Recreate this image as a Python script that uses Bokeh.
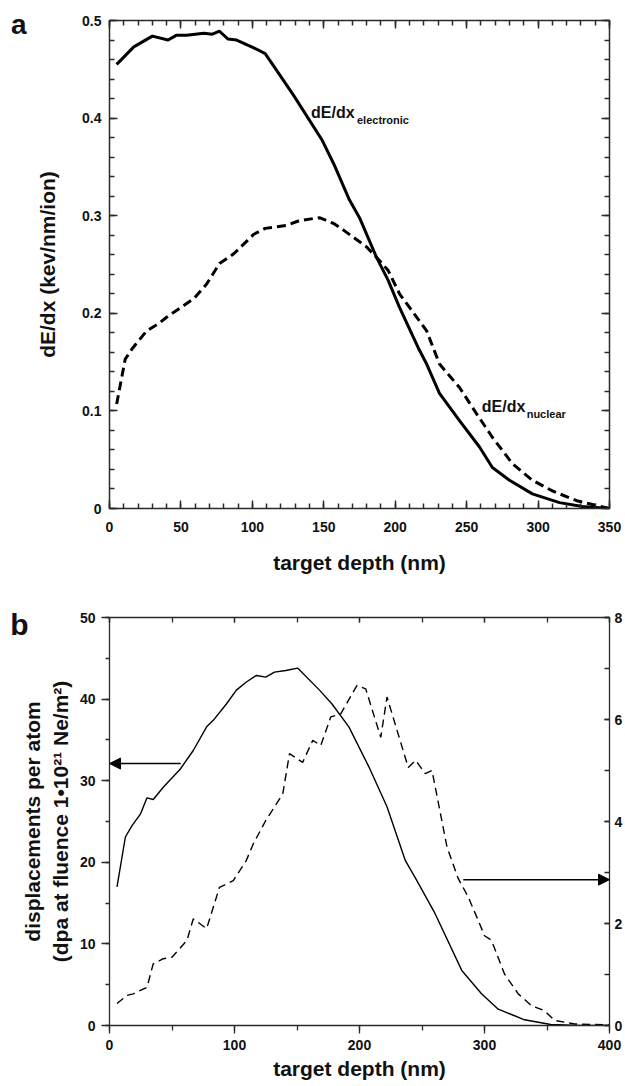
import math
from bokeh.plotting import figure
from bokeh.models import (Range1d, LinearAxis, SingleIntervalTicker, FixedTicker, Label, Arrow,
                          NormalHead, CustomJSTickFormatter)
from bokeh.layouts import column
from bokeh.embed import file_html
from bokeh.resources import INLINE

# ---------------- data (panel a) ----------------
depth_elec = [5, 17, 30, 41, 47, 54, 66, 72, 77, 83, 89, 101, 109, 117, 129, 149, 157, 168,
              175, 187, 195, 203, 216, 222, 231, 245, 259, 268, 280, 296, 315, 331, 350]
dedx_elec = [0.455, 0.473, 0.484, 0.480, 0.485, 0.485, 0.487, 0.486, 0.489, 0.481, 0.480,
             0.472, 0.466, 0.449, 0.423, 0.377, 0.353, 0.316, 0.298, 0.257, 0.234, 0.206,
             0.165, 0.148, 0.118, 0.090, 0.063, 0.042, 0.029, 0.015, 0.006, 0.002, 0.0]
depth_nucl = [5, 11, 16, 26, 34, 40, 52, 59, 68, 77, 87, 101, 109, 124, 133, 147, 157, 164,
              180, 189, 195, 203, 210, 222, 231, 245, 257, 268, 282, 296, 310, 327, 350]
dedx_nucl = [0.107, 0.153, 0.164, 0.182, 0.189, 0.196, 0.208, 0.215, 0.230, 0.251, 0.261,
             0.281, 0.287, 0.290, 0.295, 0.298, 0.292, 0.285, 0.268, 0.254, 0.244, 0.220,
             0.206, 0.182, 0.148, 0.124, 0.097, 0.073, 0.046, 0.029, 0.018, 0.008, 0.0]

# ---------------- data (panel b) ----------------
depth_dpa = [6, 12.7, 18, 24.7, 30, 35, 43, 56.5, 67, 77.7, 83, 93.5, 101.5, 109.5, 117.5,
             125, 132, 141, 150.5, 168, 178, 191.5, 207.5, 222, 236.7, 245, 260.5, 282,
             297.6, 311, 332, 353, 375, 400]
dpa = [17.0, 23.1, 24.5, 25.9, 27.9, 27.7, 29.2, 31.4, 33.7, 36.6, 37.4, 39.4, 41.1, 42.1,
       42.9, 42.7, 43.3, 43.5, 43.8, 41.1, 39.4, 36.6, 31.7, 26.8, 20.2, 18.0, 13.7, 6.7,
       3.9, 2.0, 0.7, 0.12, 0.02, 0.0]
depth_conc = [6, 14, 19, 30, 35, 43, 50, 62, 67, 77.7, 88, 99, 109.5, 115, 125, 138.6, 144,
              154.5, 162.6, 169, 177, 185, 198, 205, 217, 222, 239, 245, 252.5, 258, 270,
              279, 287, 295, 300, 305.6, 316, 327, 337.5, 348, 356, 372, 400]
conc = [0.43, 0.59, 0.62, 0.75, 1.21, 1.31, 1.34, 1.67, 2.09, 1.90, 2.71, 2.84, 3.24, 3.56,
        4.02, 4.54, 5.33, 5.16, 5.59, 5.49, 6.05, 6.11, 6.67, 6.60, 5.65, 6.44, 5.06, 5.20,
        4.94, 5.00, 3.50, 2.88, 2.52, 2.06, 1.76, 1.67, 1.01, 0.62, 0.39, 0.29, 0.10, 0.03,
        0.01]

# arrows (depth, value) pointing to their axes
arrow_left = (57, 32.1, 0)      # x_start, y, x_end  (left axis units)
arrow_right = (283, 2.86, 400)  # x_start, y, x_end  (right axis units)

FONT = "Liberation Sans"
INK = "#111111"
AX = "#2a2a2a"


def style_axis(ax, tick_in, tick_out, minor_in, minor_out, lw, labels=True, standoff=6, size="14px"):
    ax.axis_line_color = AX
    ax.axis_line_width = lw
    ax.major_tick_line_color = AX
    ax.minor_tick_line_color = AX
    ax.major_tick_line_width = lw
    ax.minor_tick_line_width = lw
    ax.major_tick_in = tick_in
    ax.major_tick_out = tick_out
    ax.minor_tick_in = minor_in
    ax.minor_tick_out = minor_out
    ax.axis_label_text_font = FONT
    ax.axis_label_text_font_style = "bold"
    ax.axis_label_text_font_size = "21px"
    ax.axis_label_text_color = INK
    if labels:
        ax.major_label_text_font = FONT
        ax.major_label_text_font_style = "bold"
        ax.major_label_text_font_size = size
        ax.major_label_text_color = INK
        ax.major_label_standoff = standoff
    else:
        ax.formatter = CustomJSTickFormatter(code="return '';")
        ax.major_label_text_font_size = "1px"
        ax.major_label_standoff = 0


def panel_letter_axis(p, letter, y_at, size, standoff):
    # an outer, line-less left axis whose single tick label is the panel letter
    ax = LinearAxis(ticker=FixedTicker(ticks=[y_at], minor_ticks=[]),
                    formatter=CustomJSTickFormatter(code="return '%s';" % letter))
    ax.axis_line_color = None
    ax.major_tick_line_color = None
    ax.minor_tick_line_color = None
    ax.major_tick_in = 0
    ax.major_tick_out = 0
    ax.minor_tick_in = 0
    ax.minor_tick_out = 0
    ax.major_label_text_font = FONT
    ax.major_label_text_font_style = "bold"
    ax.major_label_text_font_size = size
    ax.major_label_text_color = INK
    ax.major_label_standoff = standoff
    p.add_layout(ax, "left")


def add_label(p, text, xy, size):
    p.add_layout(Label(x=xy[0], y=xy[1], text=text, text_font=FONT, text_font_style="bold",
                       text_font_size=size, text_color=INK, text_align="left",
                       text_baseline="alphabetic"))


# ====================== panel a ======================
p1 = figure(width=625, height=580, x_range=Range1d(0, 350), y_range=Range1d(0, 0.5),
            output_backend="svg", toolbar_location=None,
            x_axis_location=None, y_axis_location=None,
            min_border_left=109, min_border_right=15, min_border_top=20, min_border_bottom=72)
p1.outline_line_color = None
p1.grid.visible = False

xb = LinearAxis(ticker=SingleIntervalTicker(interval=50, num_minor_ticks=5),
                axis_label="target depth (nm)")
style_axis(xb, 8, 0, 5, 0, 1.5, standoff=13)
xb.axis_label_standoff = 16
p1.add_layout(xb, "below")
xt = LinearAxis(ticker=SingleIntervalTicker(interval=50, num_minor_ticks=5))
style_axis(xt, 8, 0, 5, 0, 1.5, labels=False)
p1.add_layout(xt, "above")
yl = LinearAxis(ticker=SingleIntervalTicker(interval=0.1, num_minor_ticks=5),
                axis_label="dE/dx (kev/nm/ion)")
style_axis(yl, 8, 0, 5, 0, 1.5, standoff=8)
yl.formatter = CustomJSTickFormatter(code="return Math.abs(tick) < 1e-9 ? '0' : tick.toFixed(1);")
yl.axis_label_standoff = 20
p1.add_layout(yl, "left")
yr = LinearAxis(ticker=SingleIntervalTicker(interval=0.1, num_minor_ticks=5))
style_axis(yr, 8, 0, 5, 0, 1.5, labels=False)
p1.add_layout(yr, "right")

p1.line(depth_elec, dedx_elec, line_color="black", line_width=3, line_join="round")
p1.line(depth_nucl, dedx_nucl, line_color="black", line_width=3, line_dash="9 5")


def a_xy(px, py):
    # page pixel -> panel a data coordinates (frame page box 109..610 x 20..508)
    return ((px - 109) / (610 - 109) * 350, (508 - py) / (508 - 20) * 0.5)


panel_letter_axis(p1, "a", a_xy(0, 24)[1], "28px", 7)
add_label(p1, "dE/dx", a_xy(311, 112), "16px")
add_label(p1, "electronic", a_xy(357, 119), "11px")
add_label(p1, "dE/dx", a_xy(482, 406), "16px")
add_label(p1, "nuclear", a_xy(527, 413), "11px")

# ====================== panel b ======================
p2 = figure(width=625, height=506, x_range=Range1d(0, 400), y_range=Range1d(0, 50),
            output_backend="svg", toolbar_location=None,
            x_axis_location=None, y_axis_location=None,
            min_border_left=109, min_border_right=14, min_border_top=37, min_border_bottom=61)
p2.extra_y_ranges = {"right": Range1d(0, 8)}
p2.outline_line_color = None
p2.grid.visible = False

bx = LinearAxis(ticker=SingleIntervalTicker(interval=100, num_minor_ticks=2),
                axis_label="target depth (nm)")
style_axis(bx, 0, 8, 0, 5, 1.3, standoff=6)
bx.axis_label_standoff = 4
p2.add_layout(bx, "below")
tx = LinearAxis(ticker=SingleIntervalTicker(interval=100, num_minor_ticks=2))
style_axis(tx, 5, 0, 5, 0, 1.3, labels=False)
p2.add_layout(tx, "above")
ly = LinearAxis(ticker=SingleIntervalTicker(interval=10, num_minor_ticks=2),
                axis_label="displacements per atom\n(dpa at fluence 1\u202210\u00b2\u00b9 Ne/m\u00b2)")
style_axis(ly, 0, 8, 0, 4, 1.3, standoff=6)
ly.axis_label_standoff = 5
p2.add_layout(ly, "left")
ry = LinearAxis(y_range_name="right", ticker=SingleIntervalTicker(interval=2, num_minor_ticks=2))
style_axis(ry, 5, 0, 5, 0, 1.3, standoff=5)
p2.add_layout(ry, "right")

p2.line(depth_dpa, dpa, line_color="black", line_width=1.4)
p2.line(depth_conc, conc, line_color="black", line_width=1.4, line_dash="8 5",
        y_range_name="right")

p2.add_layout(Arrow(end=NormalHead(size=11, fill_color="black", line_color="black"),
                    x_start=arrow_left[0], y_start=arrow_left[1],
                    x_end=arrow_left[2], y_end=arrow_left[1],
                    line_color="black", line_width=1.5))
p2.add_layout(Arrow(end=NormalHead(size=11, fill_color="black", line_color="black"),
                    x_start=arrow_right[0], y_start=arrow_right[1],
                    x_end=arrow_right[2], y_end=arrow_right[1],
                    line_color="black", line_width=1.5, y_range_name="right"))


def b_y(py):
    # page pixel row -> panel b left-axis value (frame page rows 617..1025)
    return (1025 - py) / (1025 - 617) * 50


panel_letter_axis(p2, "b", b_y(624), "30px", -10)

layout = column(p1, p2)
open("out.html", "w").write(file_html(layout, INLINE))
